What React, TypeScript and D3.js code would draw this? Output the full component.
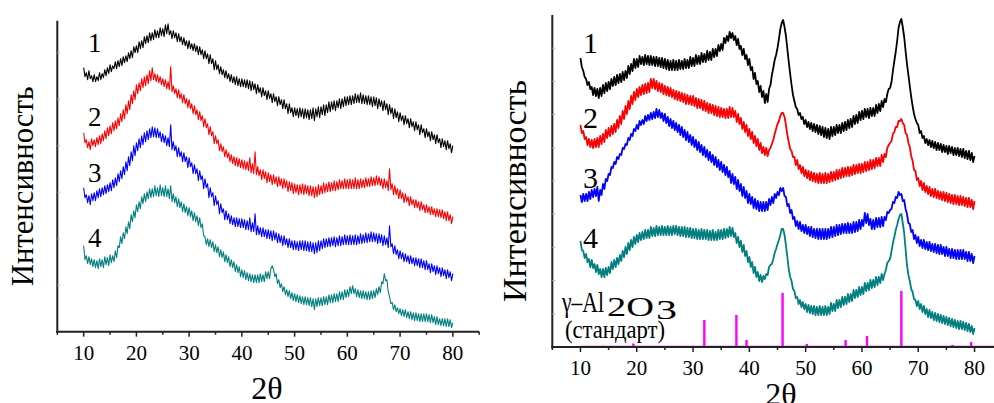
import * as d3 from 'd3';

// 2θ sampling grid: 10°..80°, step 0.25°
const ANGLE_START = 10;
const ANGLE_STEP = 0.25;

// Left panel intensities (arb. units), curves 1-4
const left1 = [
  264,255,259,252, 261,253,256,250, 257,250,255,251, 259,252,258,254, 262,256,264,258,
  267,260,266,263, 270,263,271,265, 273,266,275,269, 276,270,279,273, 281,274,285,279,
  286,279,290,283, 291,284,295,288, 296,289,299,291, 299,292,302,294, 301,294,304,296,
  303,295,307,298, 308,297,301,293, 301,294,299,290, 298,290,295,287, 294,286,291,283,
  291,283,288,281, 288,280,286,277, 285,277,282,273, 281,273,278,268, 277,268,273,262,
  271,262,267,258, 265,257,262,254, 261,253,258,250, 257,249,255,247, 255,246,253,245,
  253,245,252,244, 252,243,251,241, 250,242,248,238, 247,239,244,235, 244,236,241,232,
  241,233,238,229, 238,230,235,226, 235,227,232,223, 232,223,228,218, 228,219,224,215,
  224,216,223,214, 224,215,223,213, 223,214,222,212, 222,213,224,211, 223,215,225,214,
  225,217,227,216, 227,219,230,220, 230,222,231,221, 231,224,233,223, 233,225,235,226,
  235,227,236,227, 236,228,238,229, 237,229,239,228, 237,228,236,227, 236,227,235,225,
  235,226,234,223, 233,225,231,221, 231,222,228,217, 227,218,224,213, 223,214,220,210,
  219,211,216,207, 216,208,213,204, 213,205,210,201, 210,202,207,197, 207,199,203,194,
  203,195,200,191, 200,192,197,188, 197,189,193,184, 193,185,191,182, 191,183,188,179,
  186,
];
const left2 = [
  199,189,192,184, 190,182,193,186, 192,185,194,187, 196,188,198,191, 201,193,204,196,
  206,198,209,201, 211,203,214,206, 218,210,222,213, 227,218,231,222, 237,228,241,232,
  247,238,249,241, 253,244,255,246, 257,248,261,251, 264,252,258,250, 257,249,255,247,
  253,245,252,243, 250,242,265,240, 246,238,243,234, 242,233,238,229, 237,228,233,224,
  232,223,228,218, 226,217,222,212, 220,211,216,205, 213,204,208,197, 205,196,200,188,
  196,188,192,181, 188,180,185,175, 182,174,179,170, 177,168,175,166, 174,165,173,164,
  172,163,171,162, 170,161,174,159, 168,158,180,157, 165,156,162,152, 162,153,160,149,
  159,150,157,147, 157,148,155,145, 155,146,153,143, 153,144,151,140, 150,141,149,138,
  148,139,147,137, 147,138,148,137, 147,138,146,136, 146,136,145,134, 145,135,147,137,
  146,138,149,139, 148,140,150,140, 149,141,151,141, 150,142,152,143, 151,143,153,143,
  152,143,153,143, 152,143,154,143, 152,143,153,144, 152,144,154,145, 153,145,155,146,
  154,146,156,147, 155,146,153,143, 153,144,151,141, 163,142,148,137, 146,137,143,133,
  142,133,139,129, 138,130,135,126, 135,127,132,124, 132,124,130,121, 130,122,127,119,
  127,119,125,117, 125,117,123,115, 123,115,122,114, 122,113,120,111, 120,111,117,108,
  115,
];
const left3 = [
  144,134,137,129, 136,127,138,131, 139,131,141,134, 143,135,144,137, 146,138,147,140,
  149,141,152,144, 154,146,158,150, 161,153,165,157, 170,161,175,166, 180,171,186,176,
  189,181,193,184, 196,187,199,190, 201,192,203,194, 205,195,204,194, 203,194,200,190,
  198,189,196,186, 194,185,207,182, 190,181,186,175, 184,175,180,170, 179,170,175,164,
  174,165,169,158, 167,158,163,151, 161,152,156,143, 153,144,148,134, 144,135,139,126,
  136,127,131,118, 128,119,123,112, 121,112,118,108, 116,107,114,105, 114,105,113,104,
  113,104,112,102, 111,102,114,100, 109,100,118,97, 106,97,104,95, 104,95,102,93,
  102,93,101,91, 101,92,99,89, 98,89,96,86, 96,87,93,84, 93,84,91,82,
  91,82,90,81, 91,82,91,81, 91,81,90,80, 90,80,89,78, 89,79,91,81,
  91,83,93,84, 93,85,94,85, 94,86,95,85, 94,86,96,86, 95,87,97,87,
  96,87,97,87, 96,87,97,87, 96,88,98,88, 97,89,99,89, 98,90,100,90,
  99,90,98,88, 98,89,97,86, 96,87,94,84, 106,85,88,78, 86,77,82,73,
  81,73,79,70, 78,70,76,68, 76,68,74,66, 74,66,73,64, 73,64,71,62,
  71,62,68,59, 68,60,66,57, 66,58,64,55, 64,56,62,53, 62,54,60,51,
  58,
];
const left4 = [
  86,72,76,68, 75,67,73,65, 72,64,71,63, 73,65,72,64, 75,67,74,66,
  77,69,76,70, 81,74,86,84, 95,88,99,93, 105,98,110,103, 117,110,121,114,
  127,120,130,123, 135,128,138,130, 140,133,143,134, 143,135,146,136, 144,135,147,136,
  144,135,146,135, 143,133,146,130, 138,129,135,125, 133,124,130,120, 128,119,125,116,
  124,115,121,111, 119,110,116,106, 114,104,108,96, 95,87,93,85, 92,84,90,80,
  87,79,85,75, 82,74,80,70, 77,69,75,65, 72,64,70,60, 67,59,65,55,
  62,54,61,52, 59,51,58,50, 57,49,57,49, 57,49,58,50, 57,50,60,53,
  60,53,63,66, 62,55,58,48, 52,44,48,40, 45,37,42,35, 41,33,39,31,
  38,30,37,29, 36,28,35,27, 35,27,34,26, 34,25,33,22, 33,25,34,26,
  34,26,35,27, 35,27,37,29, 37,29,38,30, 38,30,40,32, 40,32,42,34,
  42,35,45,38, 46,38,43,35, 42,34,41,33, 41,33,40,32, 40,32,41,33,
  41,34,43,37, 45,39,50,48, 58,51,52,40, 35,28,29,22, 27,20,24,18,
  23,16,22,15, 22,14,20,13, 20,12,19,11, 19,11,18,10, 18,10,18,10,
  18,10,17,9, 17,9,15,7, 15,7,13,6, 13,6,13,5, 13,5,12,4,
  9,
];

// Right panel intensities (arb. units), curves 1-4
const right1 = [
  289,280,276,270, 268,262,265,258, 260,252,259,251, 258,249,259,251, 262,254,264,256,
  265,258,268,261, 270,262,272,264, 273,265,275,267, 276,269,281,273, 283,276,288,279,
  288,280,291,283, 290,282,292,283, 291,282,291,282, 290,281,290,281, 289,280,289,279,
  288,278,287,277, 286,277,287,277, 286,277,287,278, 286,278,288,279, 287,279,290,281,
  289,281,292,283, 291,283,294,285, 293,285,296,287, 295,287,298,290, 298,291,302,296,
  303,297,309,304, 311,306,315,309, 314,307,311,302, 308,298,301,292, 298,288,292,282,
  288,277,280,268, 274,263,266,255, 261,250,256,244, 253,245,258,262, 272,279,287,292,
  299,308,318,324, 327,320,311,298, 285,273,262,252, 246,240,238,232, 234,228,230,223,
  227,220,225,218, 224,216,223,215, 222,213,221,212, 220,210,219,209, 218,208,220,211,
  220,212,222,214, 222,214,224,216, 225,217,227,219, 228,220,231,223, 232,224,235,227,
  236,228,238,230, 238,229,239,231, 239,231,242,234, 243,236,246,240, 248,245,253,258,
  259,265,276,286, 295,306,319,325, 328,320,310,296, 283,272,261,250, 241,233,228,224,
  222,214,216,209, 211,204,208,202, 207,200,206,199, 205,197,204,197, 203,195,202,195,
  201,193,201,194, 200,192,199,192, 199,191,198,190, 198,189,196,188, 196,187,194,185,
  191,
];
const right2 = [
  222,214,216,208, 210,202,208,200, 207,199,208,200, 209,200,211,203, 213,205,217,209,
  219,211,221,213, 223,215,227,219, 231,223,236,228, 241,233,246,238, 251,243,255,247,
  258,250,260,252, 262,253,263,254, 264,255,268,259, 268,258,266,256, 264,255,263,253,
  261,252,260,251, 259,250,257,248, 256,247,255,246, 254,245,253,243, 252,243,251,242,
  251,241,249,239, 248,239,247,237, 246,236,244,234, 243,234,242,232, 241,231,240,230,
  239,230,238,229, 238,229,240,230, 239,230,236,225, 233,223,229,218, 225,215,222,211,
  218,208,215,204, 211,201,208,197, 204,194,200,192, 199,191,197,199, 203,207,213,218,
  223,226,231,234, 234,230,222,212, 205,198,196,190, 190,182,187,178, 182,174,180,171,
  177,169,176,167, 175,166,174,165, 173,164,174,164, 173,164,174,164, 173,165,175,166,
  175,167,177,168, 177,169,179,170, 179,171,180,171, 180,172,182,173, 182,174,183,174,
  183,175,185,176, 185,177,187,178, 187,179,189,181, 189,181,192,185, 193,190,199,202,
  204,206,213,215, 220,220,226,226, 228,224,222,214, 212,204,200,191, 186,177,176,167,
  169,161,166,157, 164,155,161,153, 160,151,158,150, 158,149,156,148, 155,147,155,146,
  154,145,153,144, 152,143,152,143, 151,142,151,142, 150,141,149,140, 149,140,147,138,
  146,
];
const right3 = [
  152,145,153,146, 153,146,155,148, 157,150,158,151, 160,146,157,152, 163,158,168,166,
  173,172,180,179, 185,183,190,188, 193,192,199,198, 203,202,209,207, 213,211,218,216,
  222,218,226,222, 227,223,231,226, 232,227,234,228, 235,229,238,230, 237,229,234,226,
  233,224,230,221, 228,219,226,217, 224,215,222,212, 220,210,217,207, 215,205,212,202,
  210,200,207,197, 205,195,202,192, 200,190,197,187, 195,185,192,182, 190,180,187,177,
  185,175,182,172, 180,170,176,164, 173,163,170,158, 167,156,163,151, 160,149,156,144,
  153,143,150,139, 148,138,146,136, 145,136,145,136, 145,137,148,142, 150,144,153,149,
  155,152,159,156, 159,151,150,141, 143,134,137,128, 130,121,126,118, 125,116,122,114,
  122,113,120,111, 120,110,118,109, 118,108,118,108, 118,108,118,108, 118,109,120,110,
  120,111,122,112, 122,113,123,114, 123,114,124,114, 123,114,125,115, 125,116,127,118,
  127,121,134,124, 133,122,128,118, 127,118,129,120, 129,120,130,121, 130,127,135,134,
  137,138,145,144, 150,149,155,152, 153,146,147,138, 133,124,123,115, 117,108,112,104,
  110,101,107,99, 107,98,105,97, 105,96,103,95, 103,94,102,93, 102,93,100,91,
  100,91,98,89, 98,89,97,88, 97,88,97,88, 97,88,95,86, 95,86,93,84,
  91,
];
const right4 = [
  106,97,96,89, 93,85,88,80, 87,79,83,75, 82,73,78,70, 78,70,79,72,
  80,74,85,78, 87,80,89,83, 92,86,96,90, 100,93,104,97, 107,100,110,103,
  112,105,114,107, 115,108,117,109, 117,109,120,111, 119,111,121,112, 120,112,121,112,
  120,112,121,112, 120,112,121,113, 121,112,120,111, 120,111,120,110, 119,110,119,109,
  118,109,118,108, 117,108,118,108, 117,108,117,107, 116,107,117,107, 115,107,117,108,
  117,108,118,109, 118,110,120,111, 119,110,114,104, 110,100,106,95, 102,91,96,85,
  90,80,85,74, 80,70,75,66, 72,65,71,68, 73,72,80,82, 83,88,94,98,
  103,107,112,118, 118,112,102,90, 78,70,66,58, 56,49,50,43, 47,40,45,38,
  43,35,42,34, 41,33,41,32, 40,32,41,32, 40,32,41,32, 40,33,44,36,
  43,36,47,39, 47,40,50,42, 50,43,53,45, 53,46,57,49, 57,50,60,52,
  60,53,64,56, 64,57,67,59, 67,60,70,62, 70,64,73,67, 73,77,84,86,
  88,96,104,110, 117,122,128,132, 133,124,114,98, 82,72,66,58, 55,48,47,41,
  46,38,43,35, 41,33,38,30, 37,29,35,27, 34,26,33,25, 32,24,31,23,
  30,22,29,21, 28,20,27,19, 26,18,26,18, 25,17,24,16, 23,15,21,13,
  19,
];

// γ-Al2O3 reference pattern (stick positions and heights)
const stdAngles = [19.4, 32.0, 37.7, 39.5, 45.9, 50.2, 57.1, 60.9, 67.0, 76.1, 79.4];
const stdHeights = [3.5, 27, 32, 7, 54, 3, 7, 11, 56, 2, 5];

const curveLabels = ['1', '2', '3', '4'];
const colors = ['#000000', '#ff0000', '#0000ff', '#008080'];
const majorTicks = [10, 20, 30, 40, 50, 60, 70, 80];
const minorTicks = [5, 15, 25, 35, 45, 55, 65, 75, 85];

const serif = { fontFamily: 'Liberation Serif, serif' };

type Panel = {
  x0: number; x1: number; yTop: number; yBase: number; yMax: number;
  series: number[][]; strokeW: number; tickBaseline: number;
  labelX: number; labelYs: number[]; labelSize: number;
  yLabelX: number; yLabelLen: number; yLabelSize: number;
  titleX: number; titleY: number; yTickStep: number;
};

function Curves({ p }: { p: Panel }) {
  const x = d3.scaleLinear().domain([5, 85]).range([p.x0, p.x1]);
  const y = d3.scaleLinear().domain([0, p.yMax]).range([p.yBase, p.yTop]);
  const line = d3
    .line<number>()
    .x((_, i) => x(ANGLE_START + i * ANGLE_STEP))
    .y((d) => y(d));
  const yTicks = d3.range(p.yBase - p.yTickStep, p.yTop + 5, -p.yTickStep);
  const yMid = (p.yTop + p.yBase) / 2 + 10;

  return (
    <g>
      {p.series.map((s, i) => (
        <path key={i} d={line(s) ?? ''} fill="none" stroke={colors[i]}
          strokeWidth={p.strokeW} strokeLinejoin="round" />
      ))}
      {/* axes */}
      <line x1={p.x0} x2={p.x0} y1={p.yTop} y2={p.yBase + 1} stroke="#222" strokeWidth={2} />
      <line x1={p.x0 - 1} x2={p.x1} y1={p.yBase} y2={p.yBase} stroke="#222" strokeWidth={2} />
      {yTicks.map((t, i) => (
        <line key={i} x1={p.x0} x2={p.x0 + 3} y1={t} y2={t} stroke="#bbb" strokeWidth={1} />
      ))}
      {majorTicks.map((t) => (
        <line key={t} x1={x(t)} x2={x(t)} y1={p.yBase} y2={p.yBase + 5} stroke="#222" strokeWidth={1.5} />
      ))}
      {minorTicks.map((t) => (
        <line key={t} x1={x(t)} x2={x(t)} y1={p.yBase} y2={p.yBase + 3} stroke="#222" strokeWidth={1.5} />
      ))}
      {majorTicks.map((t) => (
        <text key={t} x={x(t)} y={p.tickBaseline} textAnchor="middle" fontSize={21} style={serif}>{t}</text>
      ))}
      {curveLabels.map((l, i) => (
        <text key={l} x={p.labelX} y={p.labelYs[i]} fontSize={p.labelSize} style={serif}>{l}</text>
      ))}
      <text transform={`translate(${p.yLabelX},${yMid}) rotate(-90)`} textAnchor="middle"
        fontSize={p.yLabelSize} style={serif} textLength={p.yLabelLen} lengthAdjust="spacingAndGlyphs">
        Интенсивность
      </text>
      <text x={p.titleX} y={p.titleY} textAnchor="middle" fontSize={32} style={serif}>2θ</text>
    </g>
  );
}

function Standard({ p }: { p: Panel }) {
  const x = d3.scaleLinear().domain([5, 85]).range([p.x0, p.x1]);
  const y = d3.scaleLinear().domain([0, p.yMax]).range([p.yBase, p.yTop]);
  return (
    <g>
      <line x1={x(10)} x2={x(85)} y1={p.yBase - 0.5} y2={p.yBase - 0.5} stroke="#ff00ff" strokeWidth={1.5} />
      {stdAngles.map((a, i) => (
        <rect key={a} x={x(a) - 1.2} y={y(stdHeights[i])} width={2.4}
          height={p.yBase - y(stdHeights[i])} fill="#ff00ff" />
      ))}
      <text x={562} y={312} fontSize={29} style={serif} textLength={42} lengthAdjust="spacingAndGlyphs">γ–Al</text>
      <text x={607} y={316} fontSize={27} style={serif} textLength={47} lengthAdjust="spacingAndGlyphs">2O</text>
      <text x={656} y={319} fontSize={27} style={serif} textLength={21} lengthAdjust="spacingAndGlyphs">3</text>
      <text x={565} y={338} fontSize={25} style={serif} textLength={100} lengthAdjust="spacingAndGlyphs">(стандарт)</text>
    </g>
  );
}

const leftPanel: Panel = {
  x0: 57.3, x1: 479.2, yTop: 20.7, yBase: 331.7, yMax: 311,
  series: [left1, left2, left3, left4], strokeW: 1.1, tickBaseline: 360,
  labelX: 88, labelYs: [52, 126, 182, 247], labelSize: 27,
  yLabelX: 33, yLabelLen: 200, yLabelSize: 31,
  titleX: 267, titleY: 399, yTickStep: 46.5,
};

const rightPanel: Panel = {
  x0: 552.3, x1: 1002.7, yTop: 15, yBase: 347, yMax: 332,
  series: [right1, right2, right3, right4], strokeW: 1.8, tickBaseline: 375,
  labelX: 583, labelYs: [53, 128, 188, 248], labelSize: 30,
  yLabelX: 526, yLabelLen: 222, yLabelSize: 34,
  titleX: 781, titleY: 405, yTickStep: 33.2,
};

export default function App() {
  return (
    <svg width={994} height={403} viewBox="0 0 994 403"
      style={{ position: 'absolute', left: 0, top: 0, background: '#fff' }}>
      <rect width={994} height={403} fill="#fff" />
      <Curves p={leftPanel} />
      <Standard p={rightPanel} />
      <Curves p={rightPanel} />
    </svg>
  );
}
